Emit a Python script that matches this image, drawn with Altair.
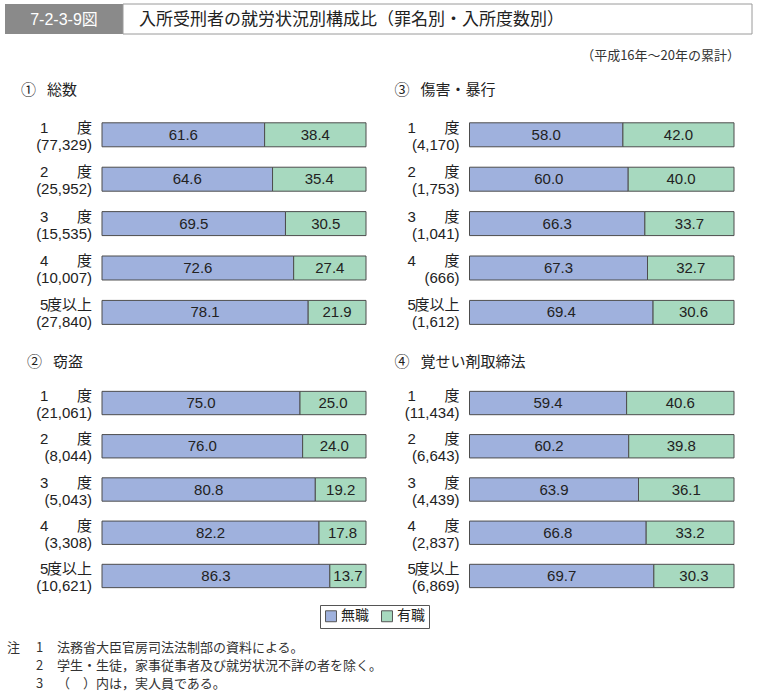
import altair as alt
import pandas as pd

# ---------------- data ----------------
PANEL_NAMES = ["総数", "傷害・暴行", "窃盗", "覚せい剤取締法"]
PANEL_MARKS = ["①", "③", "②", "④"]
PANEL_COL = [0, 1, 0, 1]
PANEL_ROW = [0, 0, 1, 1]

DEG_LEFT = ["1", "2", "3", "4", "5"]
DEG_RIGHT = ["度", "度", "度", "度", "度以上"]

STATUS = ["無職", "有職"]
COLORS = ["#9fb1dd", "#a7d9bf"]

TOTAL_COUNTS = ["77,329", "25,952", "15,535", "10,007", "27,840"]
TOTAL_UNEMP = [61.6, 64.6, 69.5, 72.6, 78.1]
TOTAL_EMP = [38.4, 35.4, 30.5, 27.4, 21.9]

ASSAULT_COUNTS = ["4,170", "1,753", "1,041", "666", "1,612"]
ASSAULT_UNEMP = [58.0, 60.0, 66.3, 67.3, 69.4]
ASSAULT_EMP = [42.0, 40.0, 33.7, 32.7, 30.6]

THEFT_COUNTS = ["21,061", "8,044", "5,043", "3,308", "10,621"]
THEFT_UNEMP = [75.0, 76.0, 80.8, 82.2, 86.3]
THEFT_EMP = [25.0, 24.0, 19.2, 17.8, 13.7]

DRUG_COUNTS = ["11,434", "6,643", "4,439", "2,837", "6,869"]
DRUG_UNEMP = [59.4, 60.2, 63.9, 66.8, 69.7]
DRUG_EMP = [40.6, 39.8, 36.1, 33.2, 30.3]

PANEL_DATA = [
    (TOTAL_COUNTS, TOTAL_UNEMP, TOTAL_EMP),
    (ASSAULT_COUNTS, ASSAULT_UNEMP, ASSAULT_EMP),
    (THEFT_COUNTS, THEFT_UNEMP, THEFT_EMP),
    (DRUG_COUNTS, DRUG_UNEMP, DRUG_EMP),
]

TITLE_TEXT = "入所受刑者の就労状況別構成比（罪名別・入所度数別）"
FIG_NO = "7-2-3-9図"
SUBTITLE = "（平成16年～20年の累計）"
NOTE_HEAD = ["注", "", ""]
NOTE_NUM = ["1", "2", "3"]
NOTE_TXT = [
    "法務省大臣官房司法法制部の資料による。",
    "学生・生徒，家事従事者及び就労状況不詳の者を除く。",
    "（　）内は，実人員である。",
]

# ---------------- layout (style) ----------------
W, H = 759, 697
X_RANGES = [[102, 366], [469.5, 734]]
Y_RANGES = [[112.6, 334.6], [381.4, 597.6]]
TITLE_DY = [-45, -41]
MARK_DX = [-81, -75, -75, -75]
NAME_DX = [-55, -49, -49, -49]

SANS = "Liberation Sans, Noto Sans CJK JP"
CJK = "Noto Sans CJK JP"

rows = []
lab_rows = []
keys = [f"r{i}" for i in range(5)]
for p, name in enumerate(PANEL_NAMES):
    counts, unemp, emp = PANEL_DATA[p]
    for i in range(5):
        rows.append(dict(panel=name, deg=keys[i], status=STATUS[0], value=unemp[i], order=0))
        rows.append(dict(panel=name, deg=keys[i], status=STATUS[1], value=emp[i], order=1))
        lab_rows.append(dict(panel=name, deg=keys[i], left=DEG_LEFT[i], right=DEG_RIGHT[i],
                             count="(" + counts[i] + ")", z=0))
df = pd.DataFrame(rows)
lab = pd.DataFrame(lab_rows)

color_scale = alt.Scale(domain=STATUS, range=COLORS)


def panel(p):
    name = PANEL_NAMES[p]
    col, row = PANEL_COL[p], PANEL_ROW[p]
    xs = alt.Scale(domain=[0, 100], range=X_RANGES[col], nice=False, zero=True)
    ys = alt.Scale(domain=keys, range=Y_RANGES[row], paddingInner=0.46, paddingOuter=0.23)
    d = df[df.panel == name]
    l = lab[lab.panel == name]

    bars = alt.Chart(d).mark_bar(stroke="#4d4d4d", strokeWidth=1).encode(
        x=alt.X("value:Q", stack="zero", scale=xs, axis=None),
        y=alt.Y("deg:N", scale=ys, axis=None),
        color=alt.Color("status:N", scale=color_scale, legend=alt.Legend(title=None)),
        order=alt.Order("order:Q"),
    )
    vals = alt.Chart(d).transform_stack(
        stack="value", groupby=["deg"], as_=["s", "e"], sort=[alt.SortField("order")]
    ).transform_calculate(mid="(datum.s + datum.e) / 2").mark_text(
        font=SANS, fontSize=15, color="#222"
    ).encode(
        x=alt.X("mid:Q", scale=xs, axis=None),
        y=alt.Y("deg:N", scale=ys, axis=None),
        text=alt.Text("value:Q", format=".1f"),
    )
    base_l = alt.Chart(l).encode(
        x=alt.X("z:Q", scale=xs, axis=None),
        y=alt.Y("deg:N", scale=ys, axis=None),
    )
    left = base_l.mark_text(font=SANS, fontSize=15, color="#222", align="left", dx=-62, dy=-7).encode(text="left:N")
    right = base_l.mark_text(font=SANS, fontSize=15, color="#222", align="right", dx=-10, dy=-7).encode(text="right:N")
    cnt = base_l.mark_text(font=SANS, fontSize=15, color="#222", align="right", dx=-10, dy=10).encode(text="count:N")

    tl = l[l.deg == keys[0]]
    tbase = alt.Chart(tl).transform_calculate(mk="'" + PANEL_MARKS[p] + "'", nm="'" + name + "'").encode(
        x=alt.X("z:Q", scale=xs, axis=None),
        y=alt.Y("deg:N", scale=ys, axis=None),
    )
    tmark = tbase.mark_text(font=CJK, fontSize=15, color="#222", align="left",
                            dx=MARK_DX[p], dy=TITLE_DY[row]).encode(text="mk:N")
    tname = tbase.mark_text(font=CJK, fontSize=15, color="#222", align="left",
                            dx=NAME_DX[p], dy=TITLE_DY[row]).encode(text="nm:N")
    return alt.layer(bars, vals, left, right, cnt, tmark, tname)


# ---------------- header / footer decorations ----------------
one = pd.DataFrame({"a": [0]})
hdr_gray = alt.Chart(one).mark_rect(color="#8a8a8a").encode(
    x=alt.value(5), x2=alt.value(123), y=alt.value(4), y2=alt.value(34))
hdr_box = alt.Chart(one).mark_rect(fill="white", stroke="#9a9a9a", strokeWidth=1).encode(
    x=alt.value(123), x2=alt.value(752), y=alt.value(4), y2=alt.value(34))
hdr_no = alt.Chart(one).mark_text(font=SANS, fontSize=16, color="white", align="center", baseline="middle").encode(
    x=alt.value(64), y=alt.value(19.5), text=alt.value(FIG_NO))
hdr_title = alt.Chart(one).mark_text(font=CJK, fontSize=17, color="#222", align="left", baseline="middle").encode(
    x=alt.value(139), y=alt.value(19.5), text=alt.value(TITLE_TEXT))
sub = alt.Chart(one).mark_text(font=CJK, fontSize=13, color="#333", align="right", baseline="middle").encode(
    x=alt.value(740), y=alt.value(56), text=alt.value(SUBTITLE))

notes_df = pd.DataFrame({
    "head": NOTE_HEAD,
    "num": NOTE_NUM,
    "txt": NOTE_TXT,
    "line": list(range(len(NOTE_TXT))),
})
note_y = alt.Y("line:Q", scale=alt.Scale(domain=[0, 2], range=[648, 684], nice=False, zero=False), axis=None)
nb = alt.Chart(notes_df)
n_head = nb.mark_text(font=CJK, fontSize=13, color="#333", align="left", baseline="middle").encode(
    x=alt.value(7), y=note_y, text="head:N")
n_num = nb.mark_text(font=CJK, fontSize=13, color="#333", align="left", baseline="middle").encode(
    x=alt.value(36), y=note_y, text="num:N")
n_txt = nb.mark_text(font=CJK, fontSize=13, color="#333", align="left", baseline="middle").encode(
    x=alt.value(57), y=note_y, text="txt:N")
notes = alt.layer(n_head, n_num, n_txt)

panels = alt.layer(*[panel(p) for p in range(4)]).resolve_scale(x="independent", y="independent")

chart = alt.layer(
    hdr_gray, hdr_box, hdr_no, hdr_title, sub, panels, notes
).resolve_scale(x="independent", y="independent").properties(
    width=W, height=H, padding=0, autosize=alt.AutoSizeParams(type="none")
).configure_view(stroke=None).configure_legend(
    orient="none", legendX=320, legendY=605, direction="horizontal",
    strokeColor="#555", padding=4, symbolType="square", symbolSize=120,
    symbolStrokeColor="#555", symbolStrokeWidth=1, labelFont=CJK, labelFontSize=14,
    labelColor="#222", columnPadding=10, labelOffset=3,
)

chart.save("out.html", embed_options={"renderer": "svg", "actions": False})
